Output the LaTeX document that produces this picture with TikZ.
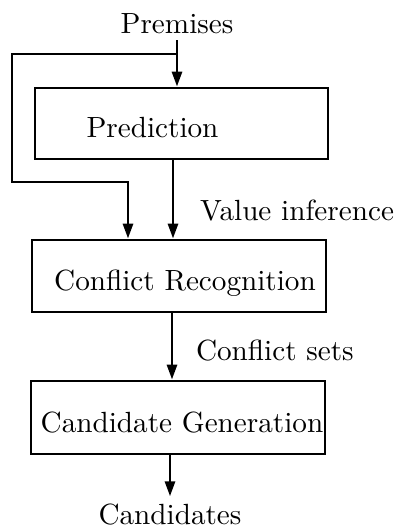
\documentclass[tikz,border=0pt]{standalone}
\usepackage{fontspec}
\setmainfont{lmroman10-regular.otf}
\usetikzlibrary{arrows.meta}

\tikzset{
  box/.style={draw, line width=1.4pt, inner sep=0pt},
  flow/.style={line width=1.4pt, -{Triangle[length=7.5pt,width=5pt]}},
  txt/.style={anchor=base}
}

\begin{document}
\begin{tikzpicture}[x=0.5pt, y=0.5pt, font=\fontsize{14.6}{18}\selectfont]
    \useasboundingbox (0,0) rectangle (401,527);

    % input and output texts
    \node[txt] (prem) at (177,494) {Premises};
    \node[txt] (cands) at (170,3) {Candidates};

    % the three stages
    \node[box, minimum width=146.5pt, minimum height=35.5pt] (pred) at (181.5,403.5) {};
    \node[box, minimum width=147pt, minimum height=36pt] (conf) at (179,251) {};
    \node[box, minimum width=147pt, minimum height=36.5pt] (cand) at (178,109.5) {};

    \node[txt] (predtxt) at (152.5,390) {Prediction};
    \node[txt] (conftxt) at (185,237) {Conflict Recognition};
    \node[txt] (candtxt) at (182,95) {Candidate Generation};

    % flow
    \coordinate (split) at (prem.south |- 0,473);
    \draw[flow] (prem.south) -- (prem.south |- pred.north);
    \draw[flow] (split) -| (12,345) -| (128,0 |- conf.north);
    \draw[flow] (173,0 |- pred.south) -- (173,0 |- conf.north)
      node[txt, anchor=base west] (valinf) at (192,307) {Value inference};
    \draw[flow] (172,0 |- conf.south) -- (172,0 |- cand.north)
      node[txt, anchor=base west] (confsets) at (188,167) {Conflict sets};
    \draw[flow] (cands.north |- cand.south) -- (cands.north);
\end{tikzpicture}
\end{document}
